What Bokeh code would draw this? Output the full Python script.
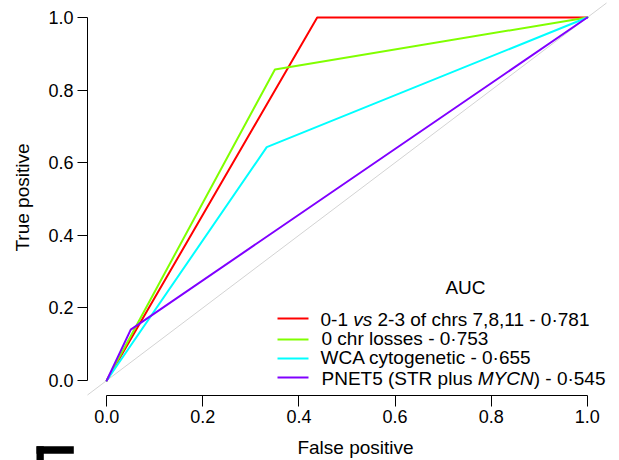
import math

from bokeh.plotting import figure
from bokeh.models import Range1d, FixedTicker, Label, BoxAnnotation
from bokeh.embed import file_html
from bokeh.resources import INLINE

# ROC curves: false positive rate vs true positive rate for each classifier
fpr_chrs = [0.0, 0.438, 1.0]
tpr_chrs = [0.0, 1.0, 1.0]
fpr_losses = [0.0, 0.35, 1.0]
tpr_losses = [0.0, 0.857, 1.0]
fpr_wca = [0.0, 0.333, 1.0]
tpr_wca = [0.0, 0.643, 1.0]
fpr_pnet5 = [0.0, 0.05, 1.0]
tpr_pnet5 = [0.0, 0.14, 1.0]

auc_values = ["0·781", "0·753", "0·655", "0·545"]
# legend text split into (text, italic) runs
legend_runs = [
    [("0-1 ", False), ("vs", True), (" 2-3 of chrs 7,8,11 - " + auc_values[0], False)],
    [("0 chr losses - " + auc_values[1], False)],
    [("WCA cytogenetic - " + auc_values[2], False)],
    [("PNET5 (STR plus ", False), ("MYCN", True), (") - " + auc_values[3], False)],
]
colors = ["#FF0000", "#80FF00", "#00FFFF", "#8000FF"]

tick_values = [0.0, 0.2, 0.4, 0.6, 0.8, 1.0]
tick_labels = ["0.0", "0.2", "0.4", "0.6", "0.8", "1.0"]

FONT = "Liberation Sans"
W, H = 619, 460

# plotting region (data window -0.04..1.04) in canvas pixels
USR = (-0.04, 1.04)
PL, PR, PT, PB = 87.0, 606.0, 2.5, 394.5
sx = (PR - PL) / (USR[1] - USR[0])
sy = (PB - PT) / (USR[1] - USR[0])
XS = USR[0] - PL / sx
XE = XS + W / sx
YE = USR[1] + PT / sy
YS = YE - H / sy


def px_x(px):
    return XS + px / sx


def px_y(py):
    return YE - py / sy


p = figure(width=W, height=H, x_range=Range1d(XS, XE), y_range=Range1d(YS, YE),
           output_backend="svg", toolbar_location=None,
           min_border_left=0, min_border_right=0, min_border_top=0, min_border_bottom=0)
p.outline_line_color = None
p.grid.visible = False
p.background_fill_color = "white"
p.border_fill_color = "white"

p.xaxis.fixed_location = USR[0]
p.yaxis.fixed_location = USR[0]
for ax, tick_out in ((p.xaxis, 11), (p.yaxis, 10)):
    ax.bounds = (0, 1)
    ax.ticker = FixedTicker(ticks=tick_values)
    ax.major_label_overrides = dict(zip(tick_values, tick_labels))
    ax.minor_tick_line_color = None
    ax.major_tick_in = 0
    ax.major_tick_out = tick_out
    ax.axis_line_color = "black"
    ax.major_tick_line_color = "black"
    ax.major_label_text_font = FONT
    ax.major_label_text_font_size = "18px"
    ax.major_label_text_color = "black"
    ax.major_label_standoff = 4

# reference diagonal across the plotting region
p.line(list(USR), list(USR), line_color="#D3D3D3", line_width=1)

curves = [(fpr_chrs, tpr_chrs), (fpr_losses, tpr_losses), (fpr_wca, tpr_wca), (fpr_pnet5, tpr_pnet5)]
for (fx, ty), c in zip(curves, colors):
    p.line(fx, ty, line_color=c, line_width=2, line_join="round", line_cap="round")


def label(px, py, text, align="center", angle=0.0, style="normal", x_offset=0.0):
    return Label(x=px_x(px), y=px_y(py), x_offset=x_offset, text=text, text_align=align,
                 text_baseline="middle", angle=angle, text_font=FONT, text_font_size="19px",
                 text_font_style=style, text_color="black")


# axis titles (positioned by the centre of their capitals)
p.add_layout(label(355, 446.7, "False positive"))
p.add_layout(label(21.7, 197, "True positive", angle=math.pi / 2))

# legend
ADV = {
    "0": 556, "1": 556, "2": 556, "3": 556, "4": 556, "5": 556, "6": 556, "7": 556,
    "8": 556, "9": 556, "-": 333, " ": 278, ".": 278, ",": 278, "·": 278, "(": 333,
    ")": 333, "a": 556, "b": 556, "c": 500, "d": 556, "e": 556, "f": 278, "g": 556,
    "h": 556, "i": 222, "l": 222, "n": 556, "o": 556, "p": 556, "r": 333, "s": 500,
    "t": 278, "u": 556, "v": 500, "y": 500, "A": 667, "C": 722, "E": 667, "M": 833,
    "N": 722, "P": 667, "R": 722, "S": 667, "T": 611, "W": 944, "Y": 667,
}
LEG_SIZE = 19


def text_w(s):
    return sum(ADV.get(ch, 556) for ch in s) / 1000.0 * LEG_SIZE


p.add_layout(label(465, 286.5, "AUC"))

row_line_y = [318, 339, 358, 377]
row_text_y = [319, 337.5, 357, 377.5]
text_x = [320, 321, 320, 321]
for runs, c, ly, ty, tx in zip(legend_runs, colors, row_line_y, row_text_y, text_x):
    p.line([px_x(277), px_x(308)], [px_y(ly), px_y(ly)], line_color=c, line_width=2)
    cursor = 0.0
    for txt, italic in runs:
        lead = len(txt) - len(txt.lstrip())
        p.add_layout(label(tx, ty, txt.strip(), align="left",
                           style="italic" if italic else "normal",
                           x_offset=cursor + text_w(txt[:lead])))
        cursor += text_w(txt)

# corner of the neighbouring panel letter
p.add_layout(BoxAnnotation(left=px_x(36), right=px_x(73.3), top=px_y(445.7), bottom=px_y(453.3),
                           fill_color="black", fill_alpha=1, line_color=None, level="overlay"))
p.add_layout(BoxAnnotation(left=px_x(36), right=px_x(43.3), top=px_y(445.7), bottom=px_y(470),
                           fill_color="black", fill_alpha=1, line_color=None, level="overlay"))

open("out.html", "w").write(file_html(p, INLINE))
